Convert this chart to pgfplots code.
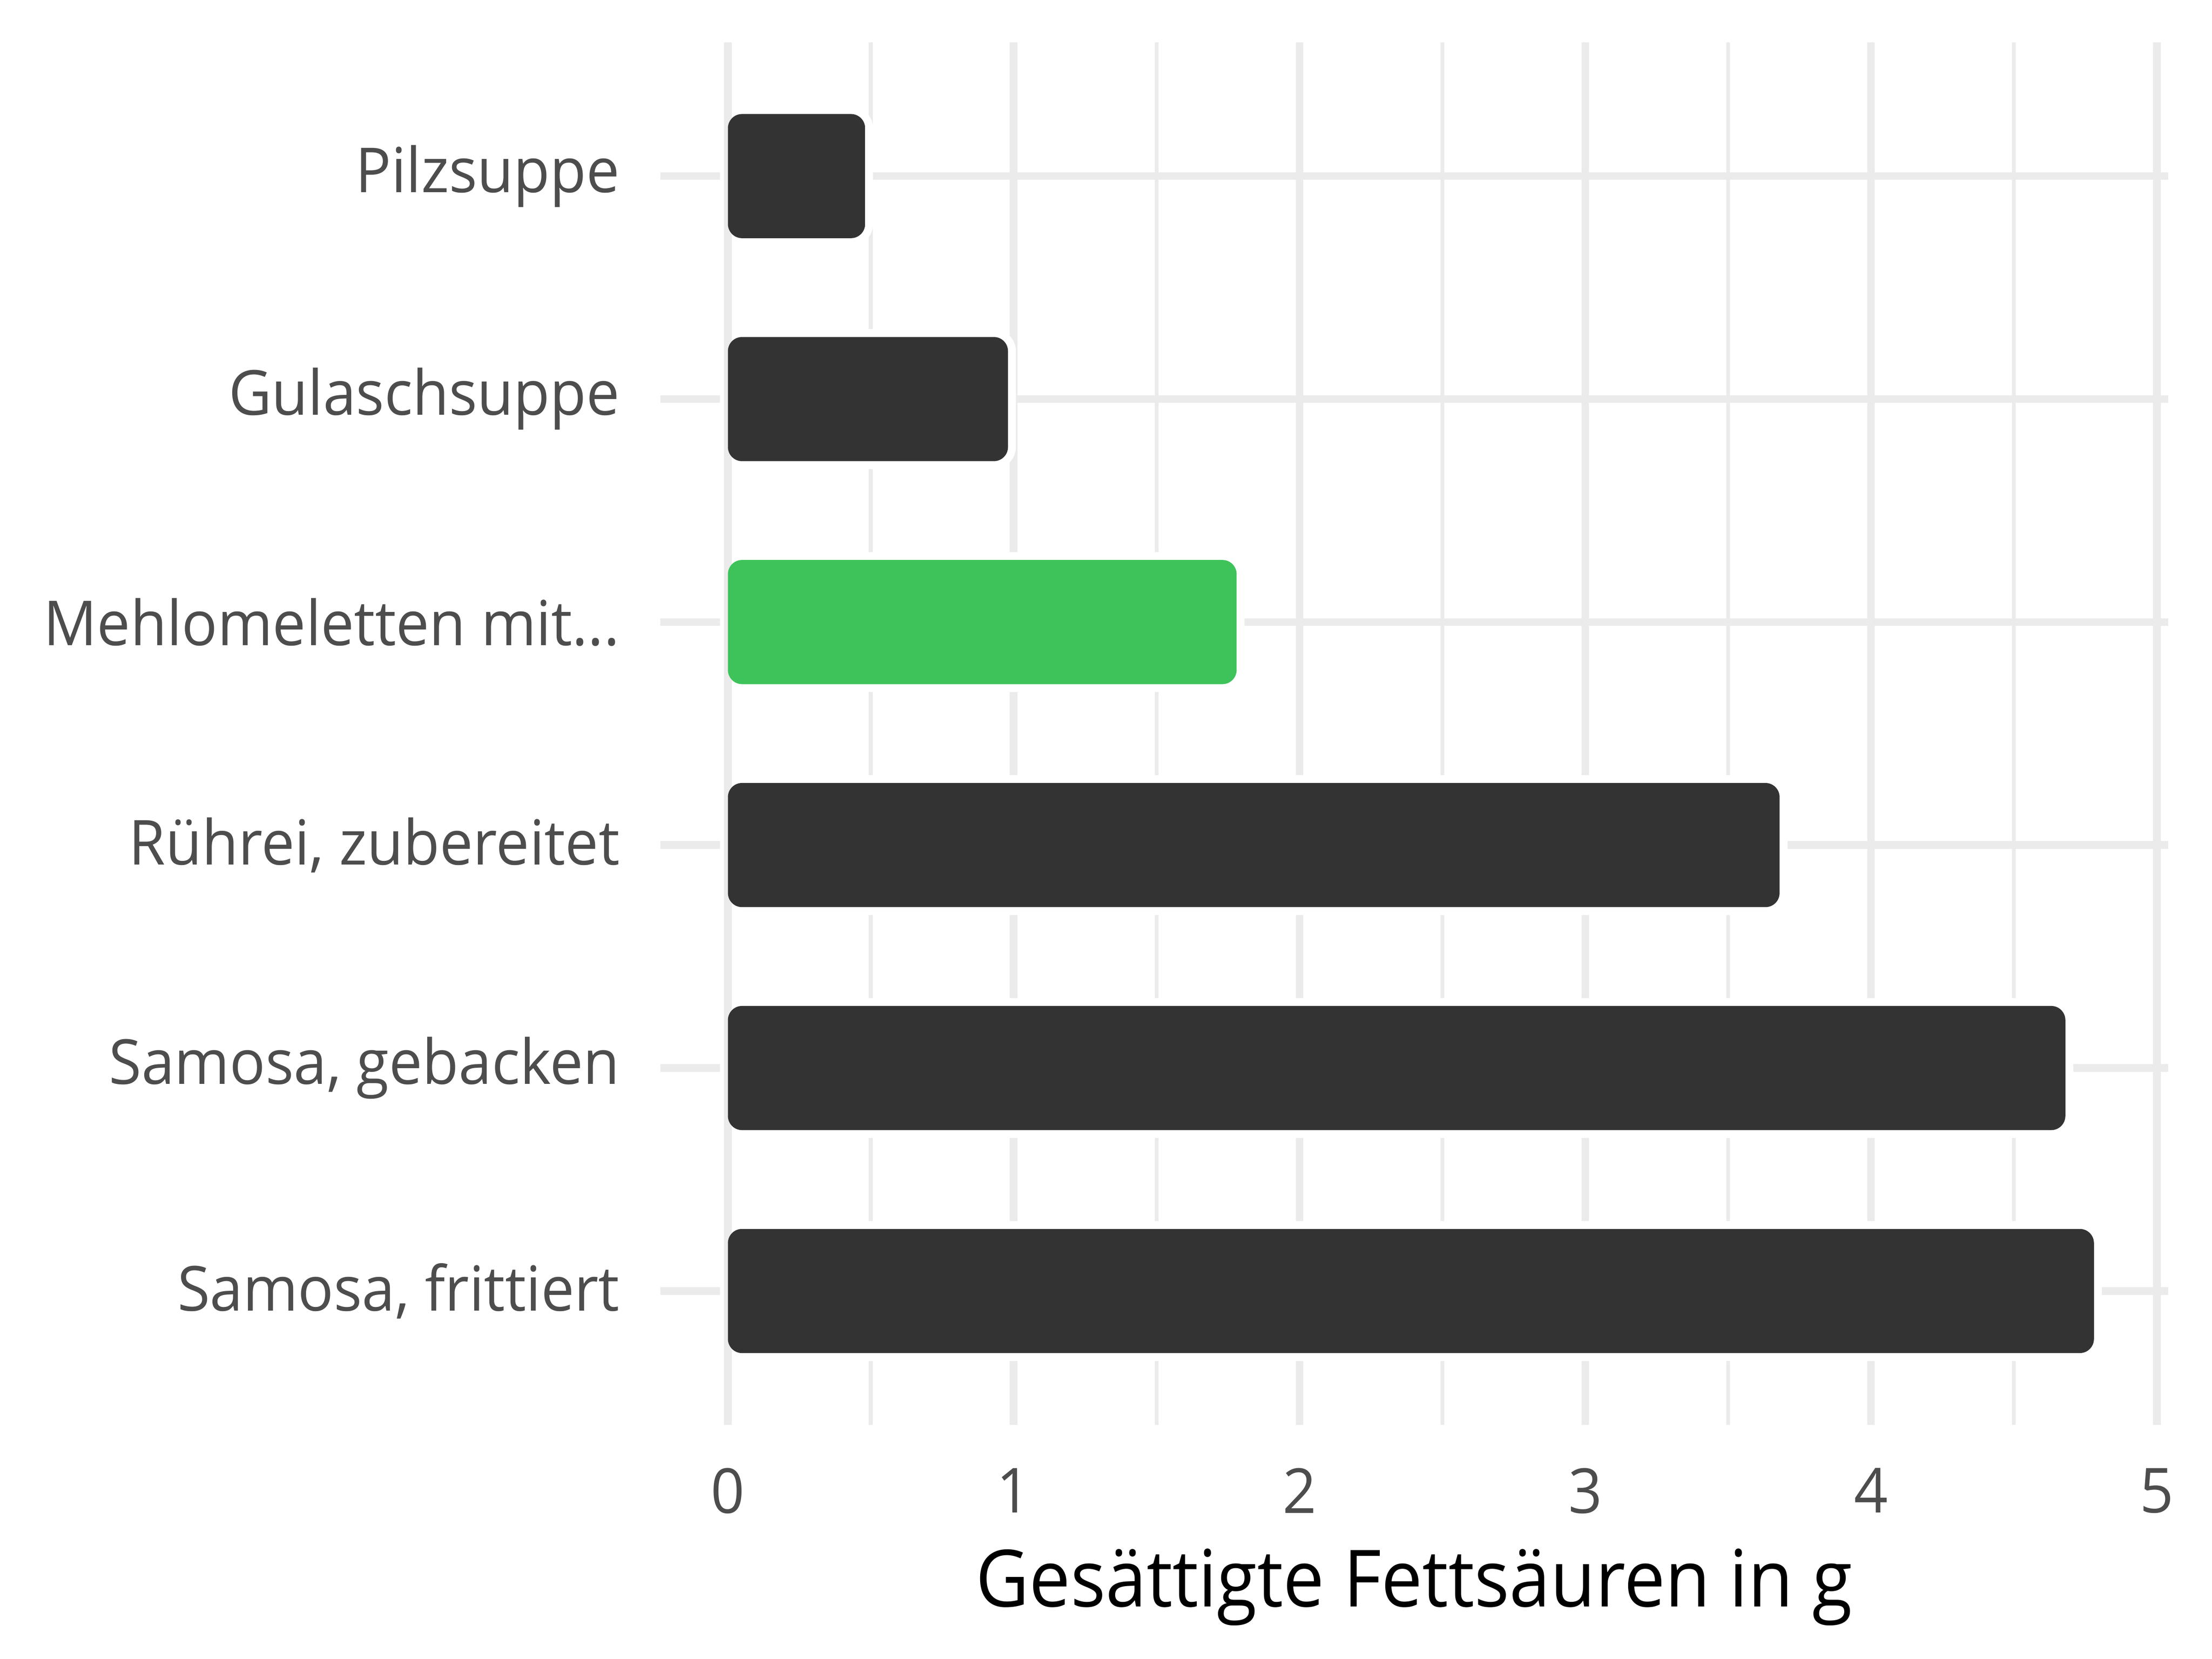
\documentclass[border=0pt]{standalone}
\usepackage{fontspec}
\setmainfont{Open Sans}[FakeStretch=0.955]
\newfontfamily\titlefont{Open Sans}[FakeStretch=0.93]
\usepackage{pgfplots}
\usepackage{pgfplotstable}
\pgfplotsset{compat=1.18}

\definecolor{bardark}{HTML}{333333}
\definecolor{bargreen}{HTML}{3DC35A}
\definecolor{gridcol}{HTML}{EBEBEB}
\definecolor{ticktext}{HTML}{4D4D4D}
\newcommand\threedots{...}

% categories from bottom (1) to top (6)
\pgfplotstableread{
pos val
1 4.78
2 4.68
3 3.68
5 0.98
6 0.48
}\darkbars
\pgfplotstableread{
pos val
4 1.78
}\greenbars

\begin{document}
\begin{tikzpicture}
\begin{axis}[
    at={(0,0)}, anchor=south west,
    scale only axis,
    width=267.25pt, height=245pt,
    xmin=-0.237, xmax=5.04,
    ymin=0.4, ymax=6.6,
    axis line style={draw=none},
    tick style={draw=none},
    major tick length=0pt, minor tick length=0pt,
    xtick={0,1,2,3,4,5},
    minor xtick={0.5,1.5,2.5,3.5,4.5},
    ytick={1,2,3,4,5,6},
    yticklabels={{Samosa, frittiert},{Samosa, gebacken},{Rührei, zubereitet},{Mehlomeletten mit\threedots},{Gulaschsuppe},{Pilzsuppe}},
    xmajorgrids, xminorgrids, ymajorgrids,
    major grid style={gridcol, line width=1.35pt},
    minor grid style={gridcol, line width=0.68pt},
    /pgf/number format/assume math mode=true,
    xticklabel style={font=\fontsize{11}{13}\selectfont, text=ticktext, anchor=north, inner sep=0pt, yshift=-7.5pt},
    yticklabel style={font=\fontsize{11}{13}\selectfont, text=ticktext, anchor=east, inner sep=0pt, xshift=-7pt},
    xlabel={Gesättigte Fettsäuren in g},
    xlabel style={font=\titlefont\fontsize{14}{17}\selectfont, text=black, at={(axis description cs:0.5,0)}, anchor=north, inner sep=0pt, yshift=-21.75pt},
    bar plot/.style={xbar, bar width=22pt, bar shift=0pt, rounded corners=2.5pt},
]
% white halo behind the bars
\addplot[bar plot, fill=white, draw=white, line width=2.8pt] table[x=val, y=pos] {\darkbars};
\addplot[bar plot, fill=white, draw=white, line width=2.8pt] table[x=val, y=pos] {\greenbars};
% zero grid line back on top of the halo
\draw[gridcol, line width=1.35pt] (axis cs:0,0.4) -- (axis cs:0,6.6);
\addplot[bar plot, fill=bardark, draw=none] table[x=val, y=pos] {\darkbars};
\addplot[bar plot, fill=bargreen, draw=none] table[x=val, y=pos] {\greenbars};
\end{axis}
\pgfresetboundingbox
\path[use as bounding box] (-117pt,-41.5pt) rectangle (275pt,252.5pt);
\end{tikzpicture}
\end{document}
